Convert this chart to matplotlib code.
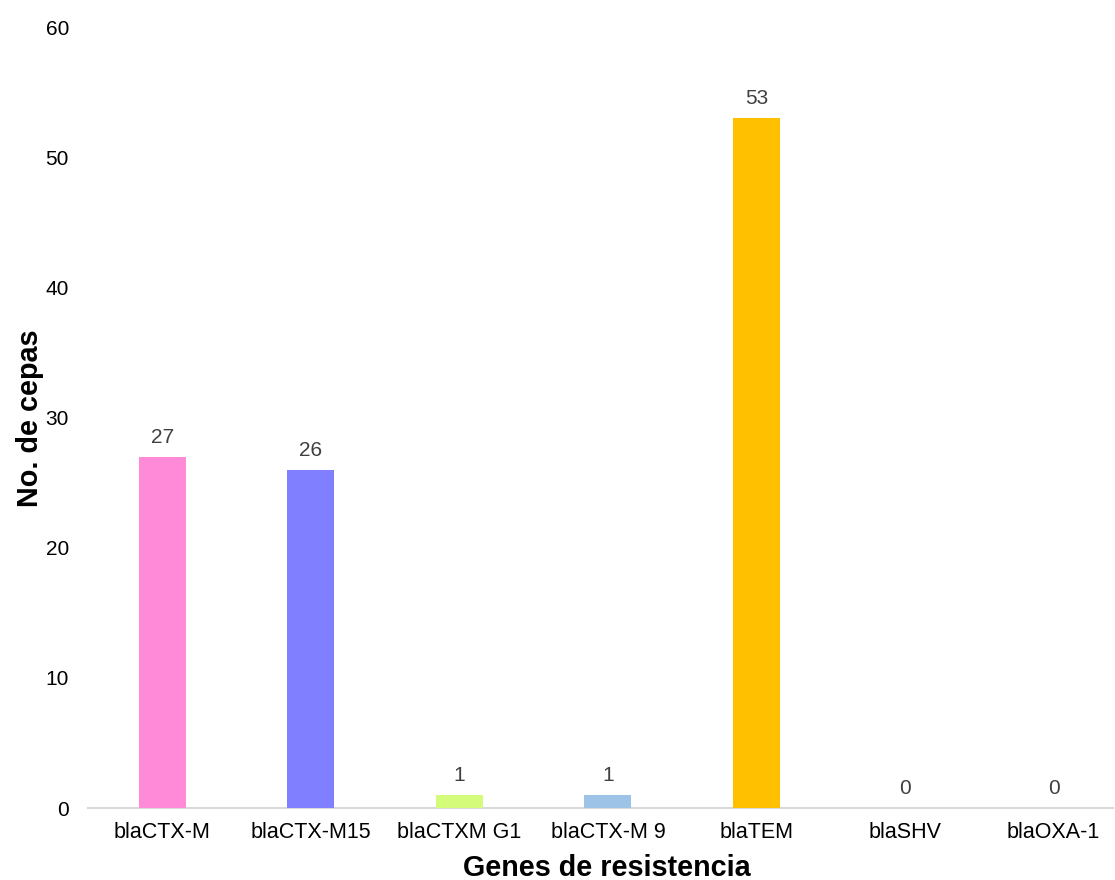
import matplotlib as mpl
import matplotlib.pyplot as plt

mpl.rcParams.update({
    'font.family': ['Liberation Sans', 'DejaVu Sans'],
    'figure.facecolor': 'white',
    'axes.facecolor': 'white',
})

GENES = ['blaCTX-M', 'blaCTX-M15', 'blaCTXM G1', 'blaCTX-M 9',
         'blaTEM', 'blaSHV', 'blaOXA-1']
CEPAS = [27, 26, 1, 1, 53, 0, 0]
COLORS = ['#FF8AD8', '#7F7FFF', '#D4FB79', '#9DC3E6',
          '#FFC000', '#A5A5A5', '#5B9BD5']
Y_TICKS = [0, 10, 20, 30, 40, 50, 60]

fig = plt.figure(figsize=(11.15, 8.8), dpi=100)
ax = fig.add_axes([88 / 1115, 1 - 808 / 880, (1113 - 88) / 1115, (808 - 27) / 880])

x = list(range(len(GENES)))
ax.bar(x, CEPAS, width=0.317, color=COLORS, zorder=3)

for xi, v in zip(x, CEPAS):
    ax.annotate(str(v), (xi, v), xytext=(0, 7), textcoords='offset points',
                ha='center', va='bottom', fontsize=15, color='#404040')

ax.set_xlim(-0.5, 6.40)
ax.set_ylim(0, 60)
ax.set_yticks(Y_TICKS)
ax.set_xticks(x)
ax.set_xticklabels(GENES)
ax.tick_params(axis='both', length=0, colors='black')
ax.tick_params(axis='y', pad=13.7, labelsize=15)
ax.tick_params(axis='x', pad=10, labelsize=15.5)

for side in ['top', 'right', 'left']:
    ax.spines[side].set_visible(False)
ax.spines['bottom'].set_color('#D9D9D9')
ax.spines['bottom'].set_linewidth(1.5)

fig.text(607 / 1115, 1 - 868 / 880, 'Genes de resistencia', ha='center', va='center',
         fontsize=20.7, fontweight='bold')
fig.text(30 / 1115, 1 - 418 / 880, 'No. de cepas', ha='center', va='center',
         rotation=90, fontsize=20.7, fontweight='bold')

fig.savefig('out.png', dpi=100)
